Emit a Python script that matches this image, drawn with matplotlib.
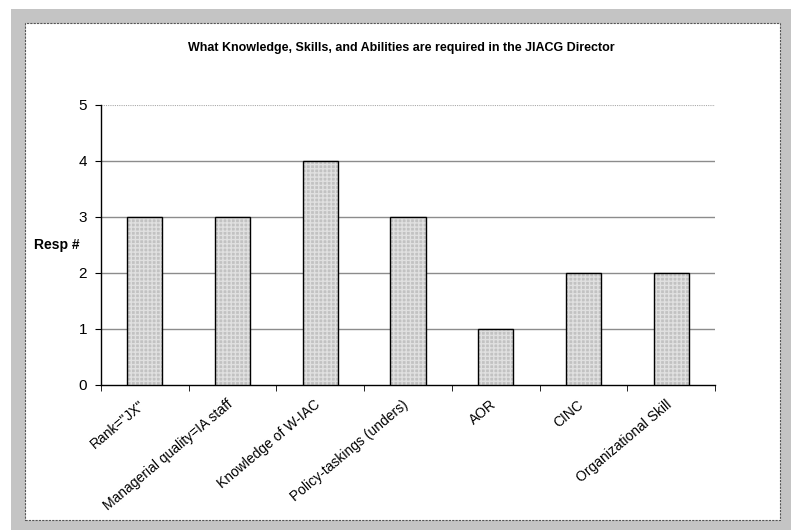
import matplotlib
matplotlib.use("Agg")
import matplotlib.pyplot as plt
from matplotlib.patches import Rectangle
import matplotlib.transforms as mtransforms
import numpy as np

categories = ['Rank="JX"', 'Managerial quality=IA staff', 'Knowledge of W-IAC',
              'Policy-taskings (unders)', 'AOR', 'CINC', 'Organizational Skill']
values = [3, 3, 4, 3, 1, 2, 2]
yticks = [0, 1, 2, 3, 4, 5]
title = "What Knowledge, Skills, and Abilities are required in the JIACG Director"
ylabel = "Resp #"

plt.rcParams['font.family'] = ['Liberation Sans Narrow', 'Liberation Sans', 'DejaVu Sans']

W, H = 791, 530
fig = plt.figure(figsize=(W / 100, H / 100), dpi=100)
fig.patch.set_facecolor('white')

# outer grey frame and inner white panel
fig.patches.append(Rectangle((11 / W, 0), 1 - 11 / W, 1 - 9 / H, transform=fig.transFigure,
                             facecolor='#c4c4c4', edgecolor='none', zorder=-2))
fig.patches.append(Rectangle((25 / W, 10 / H), (780 - 25) / W, (520 - 23) / H,
                             transform=fig.transFigure, facecolor='white',
                             edgecolor='#555555', linewidth=0.8, linestyle=(0, (2, 1)), zorder=-1))

ax = fig.add_axes([101 / W, 1 - 385 / H, (715 - 101) / W, (385 - 105) / H])
ax.set_zorder(2)
ax.set_facecolor('none')
x = np.arange(len(categories))
ax.bar(x, values, width=0.4, color='#c2c2c2', edgecolor='#e0e0e0', hatch='++++',
       linewidth=0, zorder=3)
ax.bar(x, values, width=0.4, fill=False, edgecolor='black', linewidth=1.0, zorder=4)

ax.set_xlim(-0.5, len(categories) - 0.5)
ax.set_ylim(0, 5)
ax.set_yticks(yticks)
ax.set_yticklabels([str(t) for t in yticks], fontsize=11)
for t in yticks[1:-1]:
    ax.axhline(t, color='#8c8c8c', linewidth=1.0, zorder=1)
ax.axhline(5, color='#aaaaaa', linewidth=0.8, linestyle=(0, (1, 1)), zorder=1)

ax.set_xticks(x)
ax.set_xticklabels(categories, rotation=40, ha='right', va='top',
                   rotation_mode='anchor', fontsize=10)
ax.tick_params(axis='x', length=0, pad=9)
offset = mtransforms.ScaledTranslation(-6 / 100, 0, fig.dpi_scale_trans)
for lab in ax.get_xticklabels():
    lab.set_transform(lab.get_transform() + offset)
ax.set_xticks(np.arange(len(categories) + 1) - 0.5, minor=True)
ax.tick_params(axis='x', which='minor', length=4, direction='out', color='black')
ax.tick_params(axis='y', length=4, direction='out', color='black', pad=6)

for s in ['top', 'right']:
    ax.spines[s].set_visible(False)
ax.spines['left'].set_color('black')
ax.spines['bottom'].set_color('black')
ax.spines['left'].set_linewidth(1.0)
ax.spines['bottom'].set_linewidth(1.0)

fig.text(401 / W, 1 - 48 / H, title, ha='center', va='center', fontsize=9,
         fontweight='bold')
fig.text(57 / W, 1 - 245 / H, ylabel, ha='center', va='center', fontsize=10,
         fontweight='bold')

fig.savefig('out.png', dpi=100)
